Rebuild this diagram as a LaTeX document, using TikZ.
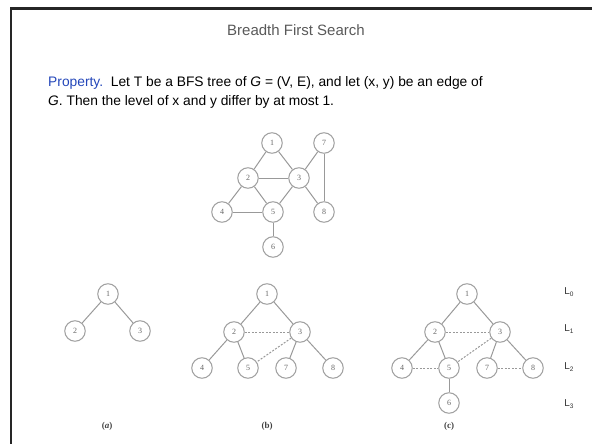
\documentclass[tikz,border=0pt]{standalone}
\usepackage{fontspec}
\setmainfont{Liberation Sans}
\newfontfamily\numfont{Liberation Serif}
\definecolor{propblue}{RGB}{35,70,185}

\begin{document}
\begin{tikzpicture}[x=1pt, y=-1pt,
    vert/.style={circle, draw=gray!75, line width=1pt, fill=white, minimum size=20.5pt, inner sep=0pt,
                 font=\numfont\fontsize{8}{8}\selectfont, text=black!60},
    aresta/.style={gray!80, line width=1pt},
    naoarvore/.style={gray!80, line width=1pt, dash pattern=on 2pt off 1.5pt},
    rotulo/.style={font=\numfont\bfseries\fontsize{9}{9}\selectfont, text=black!75},
    nivel/.style={font=\fontsize{10}{10}\selectfont, text=black!80}]
    \useasboundingbox (0,0) rectangle (592,444);

    % Moldura
    \draw[line width=2.5pt, black!85] (11,444) -- (11,8.5) -- (592,8.5);

    % Titulo e enunciado
    \node[text=black!65, font=\fontsize{15}{15}\selectfont, anchor=base] (titulo) at (296,36) {Breadth First Search};
    \node[anchor=base west, font=\fontsize{13.8}{13.8}\selectfont, inner sep=0pt] (prop1) at (48,87)
        {\textcolor{propblue}{Property.}\ \ Let T be a BFS tree of \textit{G} = (V, E), and let (x, y) be an edge of};
    \node[anchor=base west, font=\fontsize{13.8}{13.8}\selectfont, inner sep=0pt] (prop2) at (48,106)
        {\textit{G}. Then the level of x and y differ by at most 1.};

    % Grafo G
    \node[vert] (g1) at (272,143) {1};
    \node[vert] (g7) at (324,143) {7};
    \node[vert] (g2) at (248,178) {2};
    \node[vert] (g3) at (299,178) {3};
    \node[vert] (g4) at (222,212) {4};
    \node[vert] (g5) at (273,212) {5};
    \node[vert] (g8) at (324,212) {8};
    \node[vert] (g6) at (273,247) {6};
    \foreach \a/\b in {1/2,1/3,2/3,2/4,2/5,3/5,3/7,3/8,7/8,4/5,5/6}
        \draw[aresta] (g\a) -- (g\b);

    % Arvore (a)
    \node[vert] (a1) at (108,294) {1};
    \node[vert] (a2) at (75,331) {2};
    \node[vert] (a3) at (140,331) {3};
    \draw[aresta] (a1) -- (a2);
    \draw[aresta] (a1) -- (a3);
    \node[rotulo] (ra) at (107,426) {(\textit{a})};

    % Arvore (b)
    \node[vert] (b1) at (267,294) {1};
    \node[vert] (b2) at (234,332) {2};
    \node[vert] (b3) at (300,332) {3};
    \node[vert] (b4) at (202,368) {4};
    \node[vert] (b5) at (248,368) {5};
    \node[vert] (b7) at (286,368) {7};
    \node[vert] (b8) at (333,368) {8};
    \foreach \a/\b in {1/2,1/3,2/4,2/5,3/7,3/8}
        \draw[aresta] (b\a) -- (b\b);
    \draw[naoarvore] (b2) -- (b3);
    \draw[naoarvore] (b3) -- (b5);
    \node[rotulo] (rb) at (267,426) {(b)};

    % Arvore (c)
    \node[vert] (c1) at (467,294) {1};
    \node[vert] (c2) at (435,332) {2};
    \node[vert] (c3) at (500,332) {3};
    \node[vert] (c4) at (402,368) {4};
    \node[vert] (c5) at (449,368) {5};
    \node[vert] (c7) at (487,368) {7};
    \node[vert] (c8) at (533,368) {8};
    \node[vert] (c6) at (449,403) {6};
    \foreach \a/\b in {1/2,1/3,2/4,2/5,3/7,3/8,5/6}
        \draw[aresta] (c\a) -- (c\b);
    \foreach \a/\b in {2/3,3/5,4/5,7/8}
        \draw[naoarvore] (c\a) -- (c\b);
    \node[rotulo] (rc) at (449,426) {(c)};

    % Niveis
    \foreach \i/\y in {0/292,1/329,2/367,3/404}
        \node[nivel] (L\i) at (569,\y) {L\raisebox{-2pt}{\fontsize{6.5}{6.5}\selectfont\i}};
\end{tikzpicture}
\end{document}
